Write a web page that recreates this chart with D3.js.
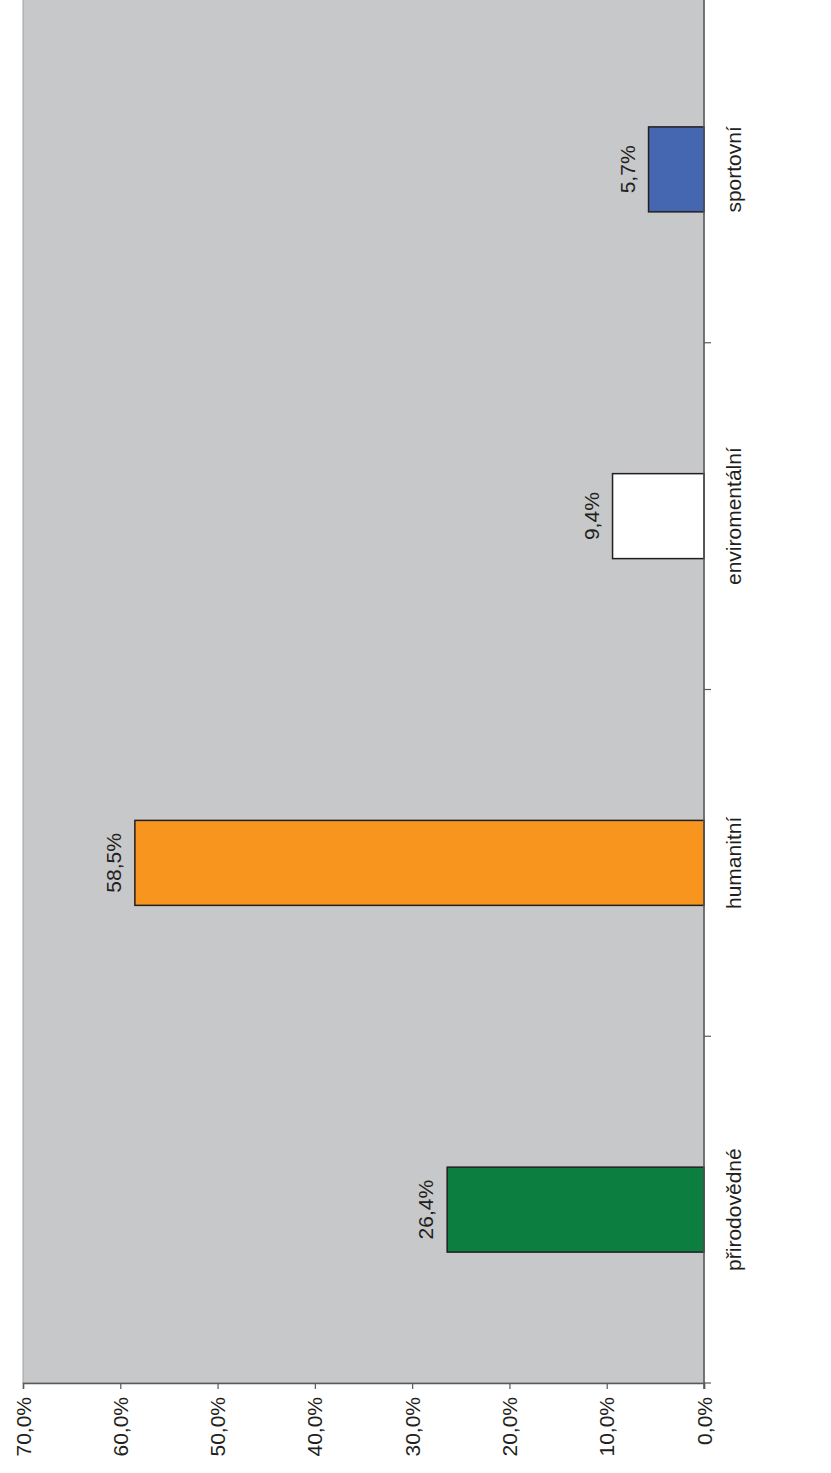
<!DOCTYPE html>
<html>
<head>
<meta charset="utf-8">
<script src="https://cdn.jsdelivr.net/npm/d3@7"></script>
<style>
  body { margin: 0; background: #fff; }
  text { font-family: "Liberation Sans", Arial, sans-serif; fill: #231f20; }
</style>
</head>
<body>
<svg id="chart"></svg>
<script>
// data
var categories = ["sportovní", "enviromentální", "humanitní", "přirodovědné"];
var values = [5.7, 9.4, 58.5, 26.4];
var barColors = ["#4566b0", "#ffffff", "#f7951e", "#0c7f40"];
var tickValues = [0, 10, 20, 30, 40, 50, 60, 70];

var width = 831;
var height = 1473;

var svg = d3.select("#chart")
    .attr("width", width)
    .attr("height", height);

// the chart is turned on its side: value axis runs right to left
var x = d3.scaleLinear().domain([0, 70]).range([704, 23]);
var y = d3.scaleBand().domain(categories).range([-4, 1383]).padding(0);

var barWidth = y.bandwidth() * 0.245;

// plot background
svg.append("rect")
    .attr("x", x(70))
    .attr("y", y.range()[0])
    .attr("width", x(0) - x(70))
    .attr("height", y.range()[1] - y.range()[0])
    .attr("fill", "#c7c8ca")
    .attr("stroke", "#9d9fa2")
    .attr("stroke-width", 1);

// bars
svg.append("g").selectAll("rect")
    .data(categories)
    .enter()
    .append("rect")
    .attr("x", function (d, i) { return x(values[i]); })
    .attr("y", function (d) { return y(d) + (y.bandwidth() - barWidth) / 2; })
    .attr("width", function (d, i) { return x(0) - x(values[i]); })
    .attr("height", barWidth)
    .attr("fill", function (d, i) { return barColors[i]; })
    .attr("stroke", "#231f20")
    .attr("stroke-width", 1.5);

// value labels
svg.append("g").selectAll("text")
    .data(categories)
    .enter()
    .append("text")
    .attr("transform", function (d, i) {
        return "translate(" + (x(values[i]) - 14) + "," + (y(d) + y.bandwidth() / 2) + ") rotate(-90)";
    })
    .attr("text-anchor", "middle")
    .style("font-size", "21px")
    .text(function (d, i) { return values[i].toFixed(1).replace(".", ",") + "%"; });

// value axis (bottom)
var valueAxis = svg.append("g")
    .attr("transform", "translate(0," + y.range()[1] + ")")
    .call(d3.axisBottom(x).tickValues(tickValues).tickSize(6).tickFormat(""));

valueAxis.select(".domain").attr("stroke", "#58595b").attr("stroke-width", 1.5);
valueAxis.selectAll(".tick line").attr("stroke", "#58595b").attr("stroke-width", 1.2);

svg.append("g").selectAll("text")
    .data(tickValues)
    .enter()
    .append("text")
    .attr("transform", function (d) {
        return "translate(" + (x(d) + 7.5) + "," + (y.range()[1] + 14) + ") rotate(-90)";
    })
    .attr("text-anchor", "end")
    .style("font-size", "21px")
    .text(function (d) { return d.toFixed(1).replace(".", ",") + "%"; });

// category axis (right, at value 0)
svg.append("line")
    .attr("x1", x(0)).attr("x2", x(0))
    .attr("y1", y.range()[0]).attr("y2", y.range()[1] + 6)
    .attr("stroke", "#58595b")
    .attr("stroke-width", 1.5);

var boundaries = categories.slice(1).map(function (d) { return y(d); });
boundaries.push(y.range()[1]);

svg.append("g").selectAll("line")
    .data(boundaries)
    .enter()
    .append("line")
    .attr("x1", x(0))
    .attr("x2", x(0) + 7)
    .attr("y1", function (d) { return d; })
    .attr("y2", function (d) { return d; })
    .attr("stroke", "#58595b")
    .attr("stroke-width", 1.2);

svg.append("g").selectAll("text")
    .data(categories)
    .enter()
    .append("text")
    .attr("transform", function (d) {
        return "translate(" + (x(0) + 37) + "," + (y(d) + y.bandwidth() / 2) + ") rotate(-90)";
    })
    .attr("text-anchor", "middle")
    .style("font-size", "21px")
    .text(function (d) { return d; });
</script>
</body>
</html>
